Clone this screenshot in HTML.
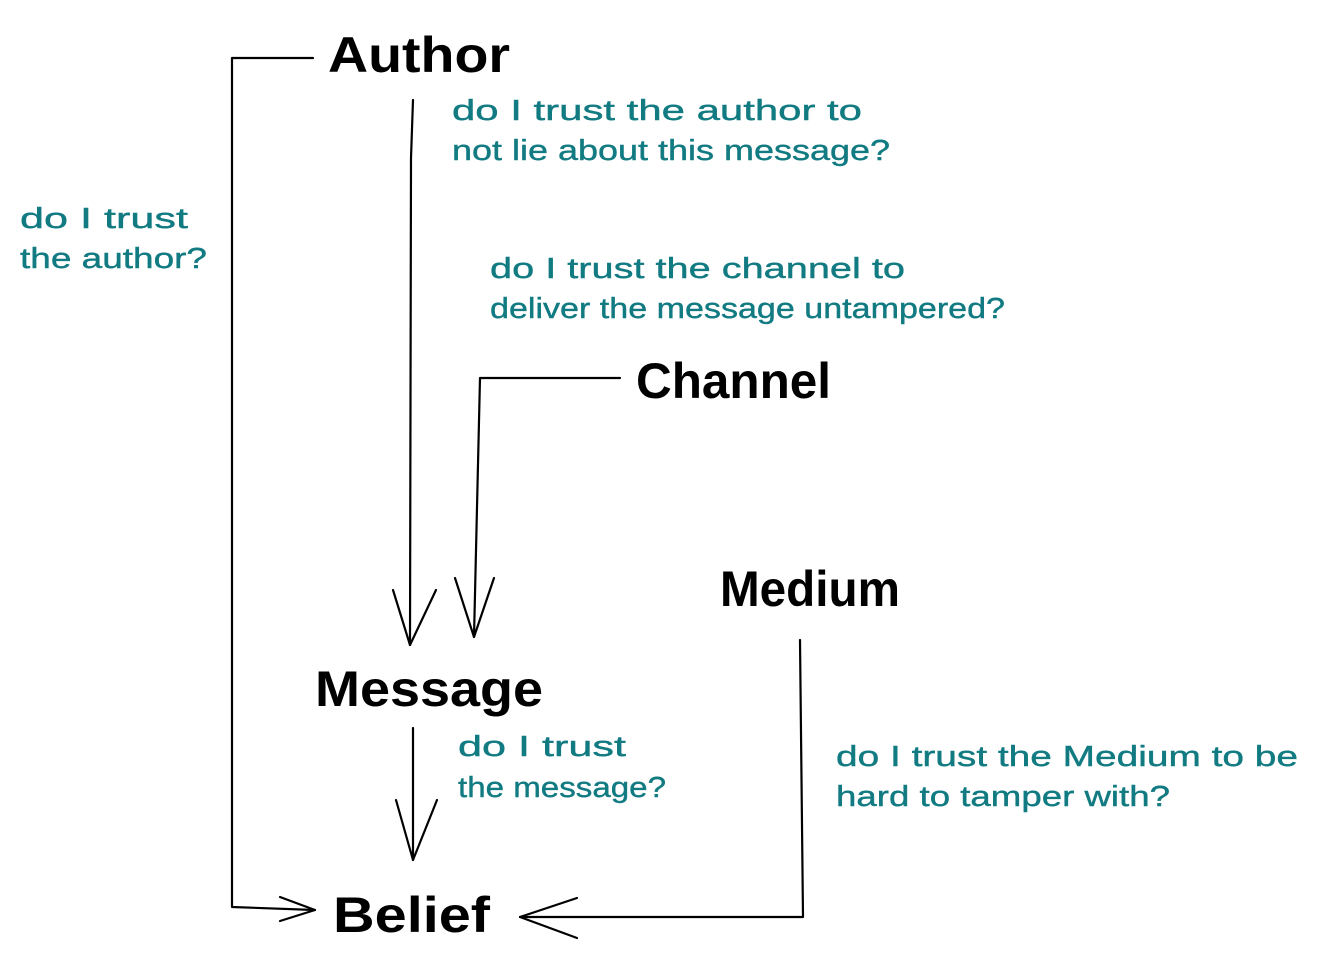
<!DOCTYPE html>
<html><head><meta charset="utf-8"><style>
html,body{margin:0;padding:0;background:#fff;}
svg{display:block;}
.h{font-family:"Liberation Sans",sans-serif;font-size:50px;font-weight:bold;fill:#000;}
.t{font-family:"Liberation Sans",sans-serif;font-size:29px;fill:#127b82;stroke:#127b82;stroke-width:0.4;}
</style></head><body>
<svg width="1320" height="973" viewBox="0 0 1320 973" xmlns="http://www.w3.org/2000/svg">
<g fill="none" stroke="#000" stroke-width="2.2" stroke-linecap="round" stroke-linejoin="round">
<path d="M313 58 L232 58 L232 907 L315 910"/>
<path d="M280 897 L315 910 L280 921"/>
<path d="M413 100 L411 158 L410 645"/>
<path d="M393 590 L410 645 L436 590"/>
<path d="M620 378 L480 378 L474 637"/>
<path d="M455 578 L474 637 L494 578"/>
<path d="M413 728 L413 860"/>
<path d="M396 800 L413 860 L437 800"/>
<path d="M800 640 L803 917 L520 917"/>
<path d="M577 898 L520 917 L577 938"/>
</g>
<text class="h" x="328" y="72" textLength="182" lengthAdjust="spacingAndGlyphs">Author</text>
<text class="h" x="636" y="398" textLength="195" lengthAdjust="spacingAndGlyphs">Channel</text>
<text class="h" x="720" y="606" textLength="180" lengthAdjust="spacingAndGlyphs">Medium</text>
<text class="h" x="315" y="706" textLength="228" lengthAdjust="spacingAndGlyphs">Message</text>
<text class="h" x="333" y="932" textLength="157" lengthAdjust="spacingAndGlyphs">Belief</text>
<text class="t" x="452" y="120" textLength="410" lengthAdjust="spacingAndGlyphs">do I trust the author to</text>
<text class="t" x="452" y="160" textLength="438" lengthAdjust="spacingAndGlyphs">not lie about this message?</text>
<text class="t" x="20" y="228" textLength="168" lengthAdjust="spacingAndGlyphs">do I trust</text>
<text class="t" x="20" y="268" textLength="187" lengthAdjust="spacingAndGlyphs">the author?</text>
<text class="t" x="490" y="278" textLength="415" lengthAdjust="spacingAndGlyphs">do I trust the channel to</text>
<text class="t" x="490" y="318" textLength="515" lengthAdjust="spacingAndGlyphs">deliver the message untampered?</text>
<text class="t" x="458" y="756" textLength="168" lengthAdjust="spacingAndGlyphs">do I trust</text>
<text class="t" x="458" y="797" textLength="208" lengthAdjust="spacingAndGlyphs">the message?</text>
<text class="t" x="836" y="766" textLength="462" lengthAdjust="spacingAndGlyphs">do I trust the Medium to be</text>
<text class="t" x="836" y="806" textLength="334" lengthAdjust="spacingAndGlyphs">hard to tamper with?</text>
</svg>
</body></html>
